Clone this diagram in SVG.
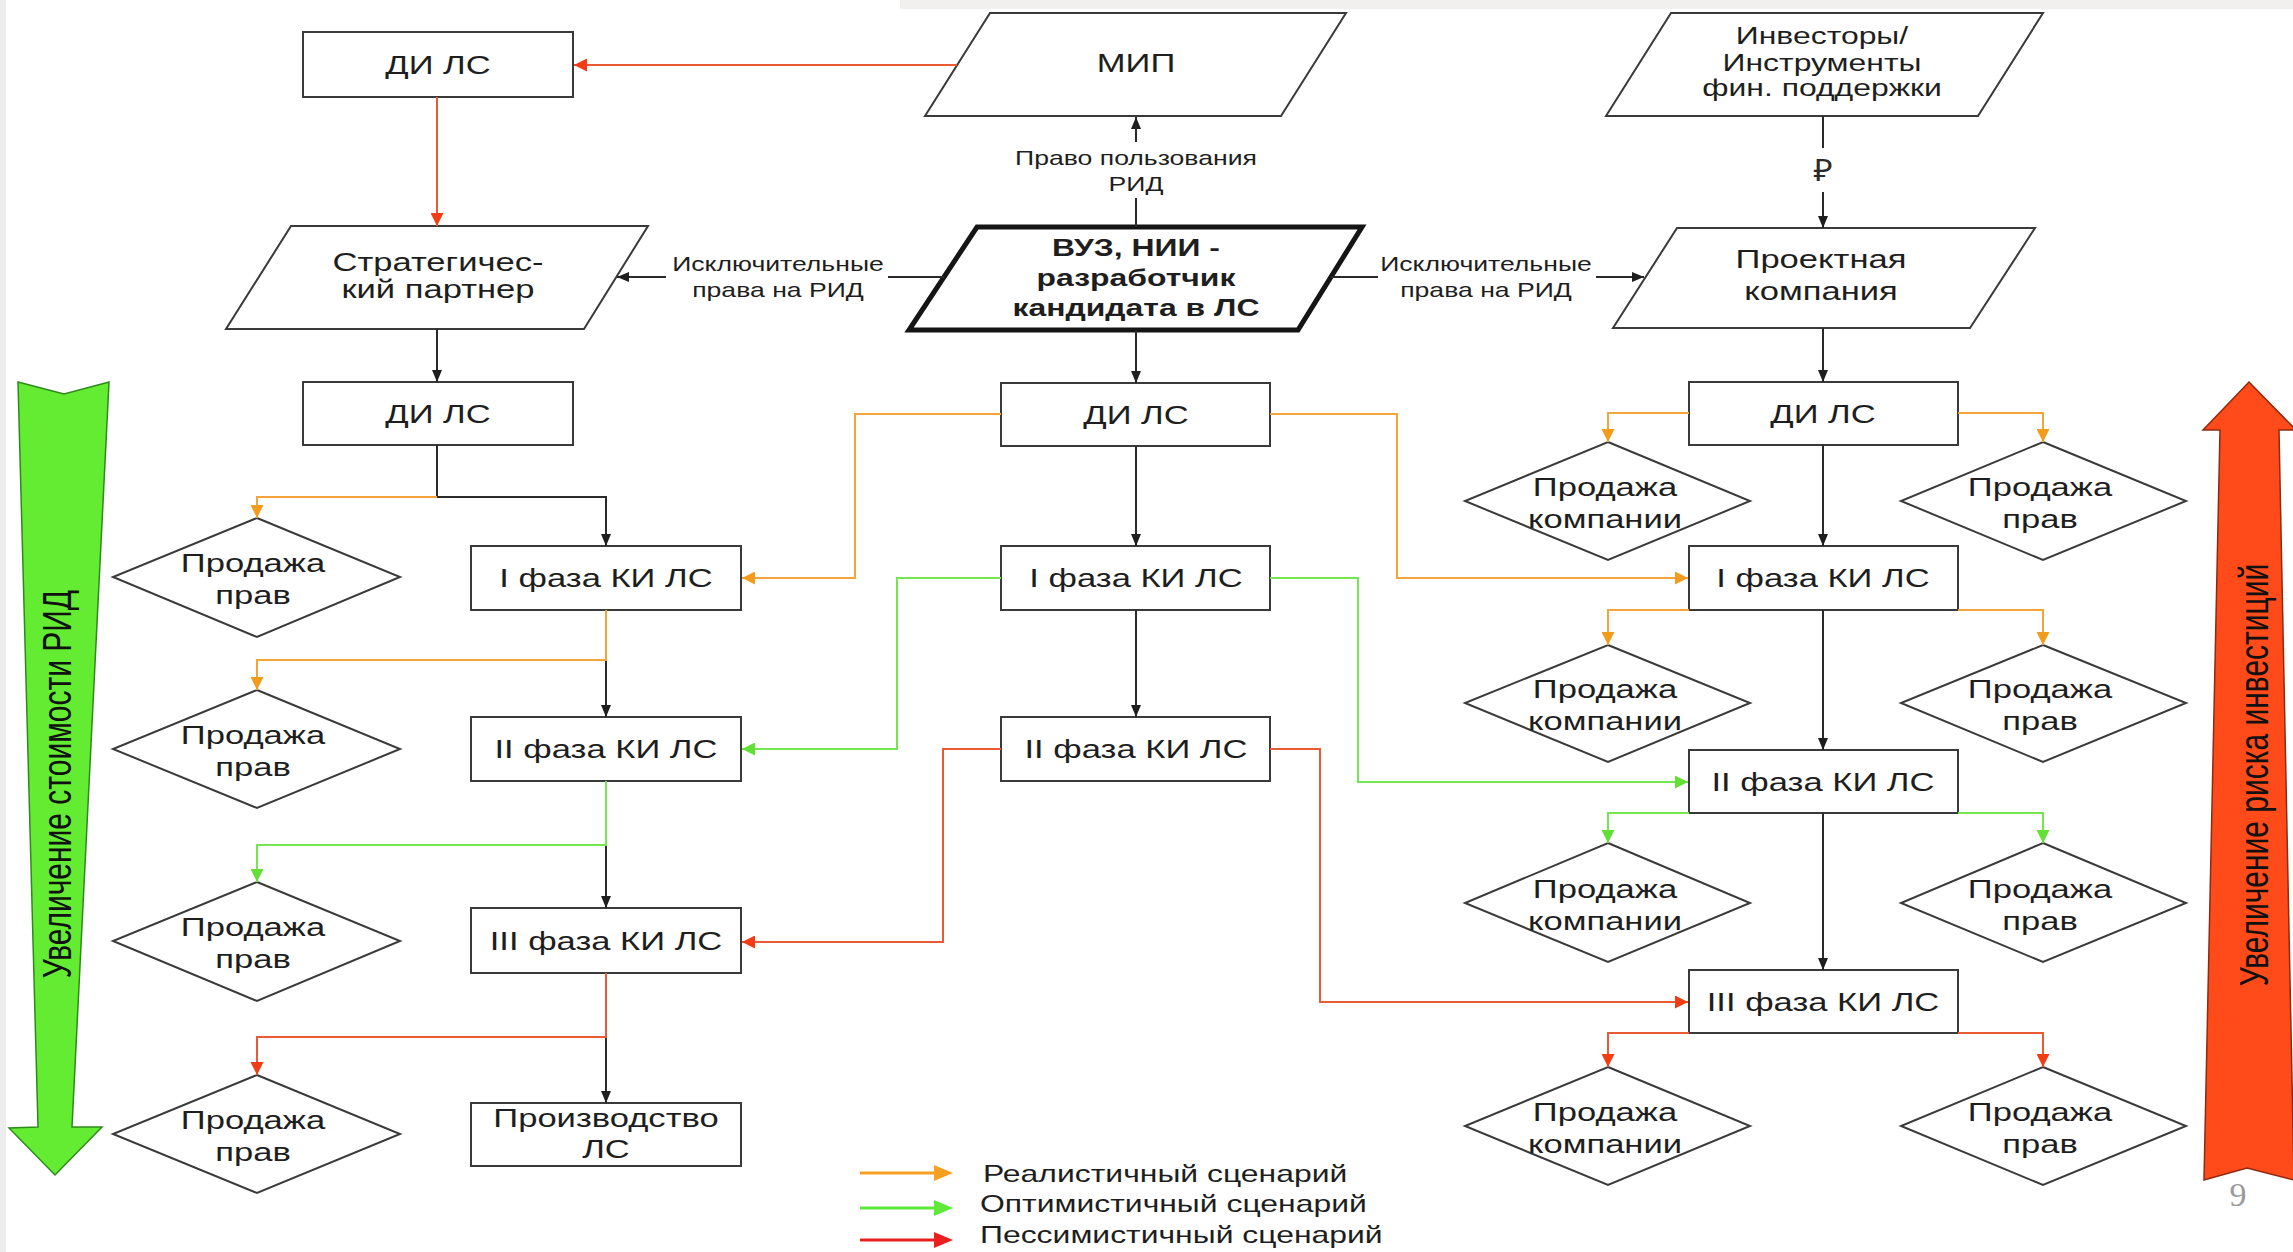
<svg xmlns="http://www.w3.org/2000/svg" width="2293" height="1252" viewBox="0 0 2293 1252">
<style>
  text { font-family: "Liberation Sans", Arial, sans-serif; fill: #1e1e1e; text-anchor: middle; }
  .t26 { font-size: 26px; }
  .t24 { font-size: 24px; }
  .t20 { font-size: 20px; }
  .tb { font-size: 24px; font-weight: bold; }
  .leg { font-size: 24px; text-anchor: start; }
  .rot { font-size: 30px; fill: #111; }
  .box { fill: #fff; stroke: #3a3a3a; stroke-width: 2; }
  .thick { fill: #fff; stroke: #151515; stroke-width: 5; stroke-linejoin: miter; }
  .c { fill: none; stroke-width: 2; }
  .k { stroke: #2a2a2a; }
  .o { stroke: #F4A53A; }
  .g { stroke: #74E650; }
  .r { stroke: #EC5A34; }
</style>
<defs>
  <marker id="ak" viewBox="0 0 12 10" refX="12" refY="5" markerWidth="12" markerHeight="10" orient="auto" markerUnits="userSpaceOnUse"><path d="M0,0 L12,5 L0,10 z" fill="#1e1e1e"/></marker>
  <marker id="ao" viewBox="0 0 12 12" refX="12" refY="6" markerWidth="13" markerHeight="13" orient="auto" markerUnits="userSpaceOnUse"><path d="M0,0 L12,6 L0,12 z" fill="#F39C1C"/></marker>
  <marker id="ag" viewBox="0 0 12 12" refX="12" refY="6" markerWidth="13" markerHeight="13" orient="auto" markerUnits="userSpaceOnUse"><path d="M0,0 L12,6 L0,12 z" fill="#62E036"/></marker>
  <marker id="ar" viewBox="0 0 12 12" refX="12" refY="6" markerWidth="13" markerHeight="13" orient="auto" markerUnits="userSpaceOnUse"><path d="M0,0 L12,6 L0,12 z" fill="#F23C14"/></marker>
</defs>
<rect x="0" y="0" width="2293" height="1252" fill="#fff"/>
<rect x="900" y="0" width="1393" height="9" fill="#f1f0ee"/>
<rect x="0" y="0" width="6" height="1252" fill="#ededed"/>

<!-- side arrows -->
<g id="arrow-value">
  <polygon points="18,382 64,394 109,382 72,1127 102,1127 55,1175 9,1128 38,1127" fill="#63EC32" stroke="#2f8a1c" stroke-width="1.5"/>
  <text class="rot" transform="translate(56,784) scale(1.33 1) rotate(-90)" y="11">Увеличение стоимости РИД</text>
</g>
<g id="arrow-risk">
  <polygon points="2249,382 2296,430 2279,430 2294,1180 2247,1168 2204,1180 2220,430 2203,430" fill="#FF4A1A" stroke="#8e2a10" stroke-width="1.5"/>
  <text class="rot" transform="translate(2253,775) scale(1.33 1) rotate(-90)" y="11">Увеличение риска инвестиций</text>
</g>

<!-- nodes -->
<g id="n-mip"><polygon class="box" points="990,13 1346,13 1281,116 925,116"/><text class="t26" transform="translate(1136,72) scale(1.33 1)">МИП</text></g>
<g id="n-vuz"><polygon class="thick" points="977,227 1362,227 1298,330 909,330"/><text class="tb" transform="translate(1136,0) scale(1.33 1)"><tspan x="0" y="256">ВУЗ, НИИ -</tspan><tspan x="0" y="286">разработчик</tspan><tspan x="0" y="316">кандидата в ЛС</tspan></text></g>
<g id="n-strat"><polygon class="box" points="291,226 648,226 584,329 226,329"/><text class="t26" transform="translate(438,0) scale(1.33 1)"><tspan x="0" y="271">Стратегичес-</tspan><tspan x="0" y="298">кий партнер</tspan></text></g>
<g id="n-inv"><polygon class="box" points="1671,13 2043,13 1978,116 1606,116"/><text class="t24" transform="translate(1822,0) scale(1.33 1)"><tspan x="0" y="44">Инвесторы/</tspan><tspan x="0" y="71">Инструменты</tspan><tspan x="0" y="96">фин. поддержки</tspan></text></g>
<g id="n-proj"><polygon class="box" points="1677,228 2035,228 1970,328 1613,328"/><text class="t26" transform="translate(1821,0) scale(1.33 1)"><tspan x="0" y="268">Проектная</tspan><tspan x="0" y="300">компания</tspan></text></g>

<g id="n-l-di1"><rect class="box" x="303" y="32" width="270" height="65"/><text class="t26" transform="translate(438,74) scale(1.33 1)">ДИ ЛС</text></g>
<g id="n-l-di2"><rect class="box" x="303" y="382" width="270" height="63"/><text class="t26" transform="translate(438,423) scale(1.33 1)">ДИ ЛС</text></g>
<g id="n-l-f1"><rect class="box" x="471" y="546" width="270" height="64"/><text class="t26" transform="translate(606,587) scale(1.33 1)">I фаза КИ ЛС</text></g>
<g id="n-l-f2"><rect class="box" x="471" y="717" width="270" height="64"/><text class="t26" transform="translate(606,758) scale(1.33 1)">II фаза КИ ЛС</text></g>
<g id="n-l-f3"><rect class="box" x="471" y="908" width="270" height="65"/><text class="t26" transform="translate(606,950) scale(1.33 1)">III фаза КИ ЛС</text></g>
<g id="n-l-prod"><rect class="box" x="471" y="1103" width="270" height="63"/><text class="t26" transform="translate(606,0) scale(1.33 1)"><tspan x="0" y="1127">Производство</tspan><tspan x="0" y="1158">ЛС</tspan></text></g>

<g id="n-m-di"><rect class="box" x="1001" y="383" width="269" height="63"/><text class="t26" transform="translate(1136,424) scale(1.33 1)">ДИ ЛС</text></g>
<g id="n-m-f1"><rect class="box" x="1001" y="546" width="269" height="64"/><text class="t26" transform="translate(1136,587) scale(1.33 1)">I фаза КИ ЛС</text></g>
<g id="n-m-f2"><rect class="box" x="1001" y="717" width="269" height="64"/><text class="t26" transform="translate(1136,758) scale(1.33 1)">II фаза КИ ЛС</text></g>

<g id="n-r-di"><rect class="box" x="1689" y="382" width="269" height="63"/><text class="t26" transform="translate(1823,423) scale(1.33 1)">ДИ ЛС</text></g>
<g id="n-r-f1"><rect class="box" x="1689" y="546" width="269" height="64"/><text class="t26" transform="translate(1823,587) scale(1.33 1)">I фаза КИ ЛС</text></g>
<g id="n-r-f2"><rect class="box" x="1689" y="750" width="269" height="63"/><text class="t26" transform="translate(1823,791) scale(1.33 1)">II фаза КИ ЛС</text></g>
<g id="n-r-f3"><rect class="box" x="1689" y="970" width="269" height="63"/><text class="t26" transform="translate(1823,1011) scale(1.33 1)">III фаза КИ ЛС</text></g>

<g id="d-l1"><polygon class="box" points="257,518 400,577 257,637 113,577"/><text class="t26" transform="translate(253,0) scale(1.33 1)"><tspan x="0" y="572">Продажа</tspan><tspan x="0" y="604">прав</tspan></text></g>
<g id="d-l2"><polygon class="box" points="257,690 400,749 257,808 113,749"/><text class="t26" transform="translate(253,0) scale(1.33 1)"><tspan x="0" y="744">Продажа</tspan><tspan x="0" y="776">прав</tspan></text></g>
<g id="d-l3"><polygon class="box" points="257,882 400,941 257,1001 113,941"/><text class="t26" transform="translate(253,0) scale(1.33 1)"><tspan x="0" y="936">Продажа</tspan><tspan x="0" y="968">прав</tspan></text></g>
<g id="d-l4"><polygon class="box" points="257,1075 400,1134 257,1193 113,1134"/><text class="t26" transform="translate(253,0) scale(1.33 1)"><tspan x="0" y="1129">Продажа</tspan><tspan x="0" y="1161">прав</tspan></text></g>

<g id="d-rc1"><polygon class="box" points="1608,442 1750,501 1608,560 1465,501"/><text class="t26" transform="translate(1605,0) scale(1.33 1)"><tspan x="0" y="496">Продажа</tspan><tspan x="0" y="528">компании</tspan></text></g>
<g id="d-rp1"><polygon class="box" points="2043,442 2186,501 2043,560 1901,501"/><text class="t26" transform="translate(2040,0) scale(1.33 1)"><tspan x="0" y="496">Продажа</tspan><tspan x="0" y="528">прав</tspan></text></g>
<g id="d-rc2"><polygon class="box" points="1608,645 1750,703 1608,762 1465,703"/><text class="t26" transform="translate(1605,0) scale(1.33 1)"><tspan x="0" y="698">Продажа</tspan><tspan x="0" y="730">компании</tspan></text></g>
<g id="d-rp2"><polygon class="box" points="2043,645 2186,703 2043,762 1901,703"/><text class="t26" transform="translate(2040,0) scale(1.33 1)"><tspan x="0" y="698">Продажа</tspan><tspan x="0" y="730">прав</tspan></text></g>
<g id="d-rc3"><polygon class="box" points="1608,843 1750,903 1608,962 1465,903"/><text class="t26" transform="translate(1605,0) scale(1.33 1)"><tspan x="0" y="898">Продажа</tspan><tspan x="0" y="930">компании</tspan></text></g>
<g id="d-rp3"><polygon class="box" points="2043,843 2186,903 2043,962 1901,903"/><text class="t26" transform="translate(2040,0) scale(1.33 1)"><tspan x="0" y="898">Продажа</tspan><tspan x="0" y="930">прав</tspan></text></g>
<g id="d-rc4"><polygon class="box" points="1608,1067 1750,1126 1608,1185 1465,1126"/><text class="t26" transform="translate(1605,0) scale(1.33 1)"><tspan x="0" y="1121">Продажа</tspan><tspan x="0" y="1153">компании</tspan></text></g>
<g id="d-rp4"><polygon class="box" points="2043,1067 2186,1126 2043,1185 1901,1126"/><text class="t26" transform="translate(2040,0) scale(1.33 1)"><tspan x="0" y="1121">Продажа</tspan><tspan x="0" y="1153">прав</tspan></text></g>

<!-- connectors -->
<g id="connectors">
  <path class="c k" d="M437,329 V382" marker-end="url(#ak)"/>
  <path class="c k" d="M437,445 V497 H606 V546" marker-end="url(#ak)"/>
  <path class="c k" d="M606,660 V717" marker-end="url(#ak)"/>
  <path class="c k" d="M606,845 V908" marker-end="url(#ak)"/>
  <path class="c k" d="M606,1037 V1103" marker-end="url(#ak)"/>
  <path class="c k" d="M1136,227 V198"/>
  <path class="c k" d="M1136,142 V117" marker-end="url(#ak)"/>
  <path class="c k" d="M944,277 H888"/>
  <path class="c k" d="M666,277 H617" marker-end="url(#ak)"/>
  <path class="c k" d="M1331,277 H1378"/>
  <path class="c k" d="M1596,277 H1644" marker-end="url(#ak)"/>
  <path class="c k" d="M1136,330 V383" marker-end="url(#ak)"/>
  <path class="c k" d="M1136,446 V546" marker-end="url(#ak)"/>
  <path class="c k" d="M1136,610 V717" marker-end="url(#ak)"/>
  <path class="c k" d="M1823,116 V148"/>
  <path class="c k" d="M1823,192 V228" marker-end="url(#ak)"/>
  <path class="c k" d="M1823,328 V382" marker-end="url(#ak)"/>
  <path class="c k" d="M1823,445 V546" marker-end="url(#ak)"/>
  <path class="c k" d="M1823,610 V750" marker-end="url(#ak)"/>
  <path class="c k" d="M1823,813 V970" marker-end="url(#ak)"/>

  <path class="c r" d="M957,65 H574" marker-end="url(#ar)"/>
  <path class="c r" d="M437,97 V226" marker-end="url(#ar)"/>
  <path class="c r" d="M606,973 V1037 H257 V1075" marker-end="url(#ar)"/>
  <path class="c r" d="M1001,749 H943 V942 H742" marker-end="url(#ar)"/>
  <path class="c r" d="M1270,749 H1320 V1002 H1688" marker-end="url(#ar)"/>
  <path class="c r" d="M1689,1033 H1608 V1067" marker-end="url(#ar)"/>
  <path class="c r" d="M1958,1033 H2043 V1067" marker-end="url(#ar)"/>

  <path class="c o" d="M437,497 H257 V518" marker-end="url(#ao)"/>
  <path class="c o" d="M606,610 V660 H257 V690" marker-end="url(#ao)"/>
  <path class="c o" d="M1001,414 H855 V578 H742" marker-end="url(#ao)"/>
  <path class="c o" d="M1270,414 H1397 V578 H1688" marker-end="url(#ao)"/>
  <path class="c o" d="M1689,413 H1608 V442" marker-end="url(#ao)"/>
  <path class="c o" d="M1958,413 H2043 V442" marker-end="url(#ao)"/>
  <path class="c o" d="M1689,610 H1608 V645" marker-end="url(#ao)"/>
  <path class="c o" d="M1958,610 H2043 V645" marker-end="url(#ao)"/>

  <path class="c g" d="M606,781 V845 H257 V882" marker-end="url(#ag)"/>
  <path class="c g" d="M1001,578 H897 V749 H742" marker-end="url(#ag)"/>
  <path class="c g" d="M1270,578 H1358 V782 H1688" marker-end="url(#ag)"/>
  <path class="c g" d="M1689,813 H1608 V843" marker-end="url(#ag)"/>
  <path class="c g" d="M1958,813 H2043 V843" marker-end="url(#ag)"/>
</g>

<!-- connector labels -->
<g id="labels">
  <text class="t20" transform="translate(1136,0) scale(1.33 1)"><tspan x="0" y="165">Право пользования</tspan><tspan x="0" y="191">РИД</tspan></text>
  <text class="t20" transform="translate(778,0) scale(1.33 1)"><tspan x="0" y="271">Исключительные</tspan><tspan x="0" y="297">права на РИД</tspan></text>
  <text class="t20" transform="translate(1486,0) scale(1.33 1)"><tspan x="0" y="271">Исключительные</tspan><tspan x="0" y="297">права на РИД</tspan></text>
  <text style="font-family:'Noto Sans','DejaVu Sans',sans-serif;font-size:30px;fill:#2a2a2a;" transform="translate(1823,181) scale(1.1 1)">₽</text>
</g>

<!-- legend -->
<g id="legend">
  <line x1="860" y1="1173" x2="938" y2="1173" stroke="#F5A020" stroke-width="3"/>
  <polygon points="934,1165 953,1173 934,1181" fill="#F5A020"/>
  <line x1="860" y1="1208" x2="938" y2="1208" stroke="#5EE83A" stroke-width="3"/>
  <polygon points="934,1200 953,1208 934,1216" fill="#5EE83A"/>
  <line x1="860" y1="1240" x2="938" y2="1240" stroke="#E82020" stroke-width="3"/>
  <polygon points="934,1232 953,1240 934,1248" fill="#E82020"/>
  <text class="leg" transform="translate(983,1182) scale(1.33 1)">Реалистичный сценарий</text>
  <text class="leg" transform="translate(980,1212) scale(1.33 1)">Оптимистичный сценарий</text>
  <text class="leg" transform="translate(980,1243) scale(1.33 1)">Пессимистичный сценарий</text>
</g>

<text x="2238" y="1206" style="font-family:'Liberation Serif',serif;font-size:34px;fill:#9a9a9a;">9</text>
</svg>
